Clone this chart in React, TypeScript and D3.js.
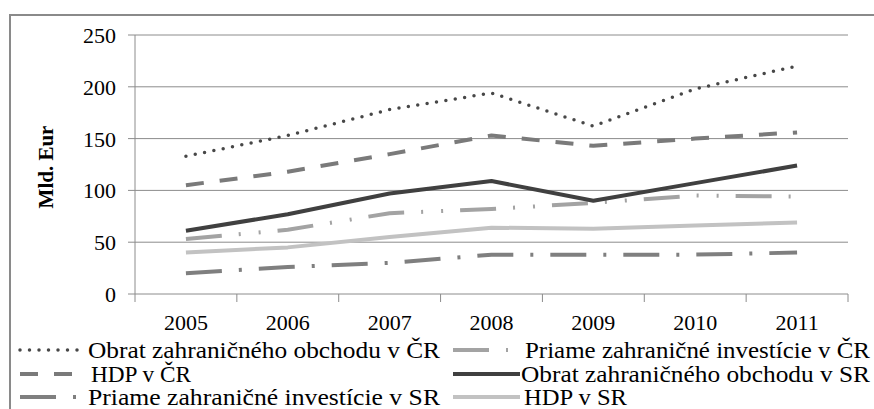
import React from 'react';
import * as d3 from 'd3';

const years = ['2005', '2006', '2007', '2008', '2009', '2010', '2011'];
const yTicks = [0, 50, 100, 150, 200, 250];

const obratCR = [133, 153, 178, 194, 162, 198, 220];
const hdpCR = [105, 118, 135, 153, 143, 150, 156];
const obratSR = [61, 77, 97, 109, 90, 107, 124];
const priameCR = [53, 62, 78, 82, 88, 95, 94];
const hdpSR = [40, 45, 55, 64, 63, 66, 69];
const priameSR = [20, 26, 30, 38, 38, 38, 40];

const seriesNames = [
  'Obrat zahraničného obchodu v ČR',
  'Priame zahraničné investície v ČR',
  'HDP v ČR',
  'Obrat zahraničného obchodu v SR',
  'Priame zahraničné investície v SR',
  'HDP v SR',
];

const W = 874;
const H = 409;
const FONT = "'Liberation Serif', 'DejaVu Serif', 'Times New Roman', serif";

const styles = [
  { values: obratCR, color: '#474747', width: 3.5, dash: '0 9.5', cap: 'round' },
  { values: priameCR, color: '#a3a3a3', width: 4, dash: '36 17 2 18 2 17', cap: 'butt' },
  { values: hdpCR, color: '#7a7a7a', width: 4, dash: '18 16', cap: 'butt' },
  { values: obratSR, color: '#404040', width: 4, dash: null, cap: 'butt' },
  { values: priameSR, color: '#7f7f7f', width: 4, dash: '36 17 3 17', cap: 'butt' },
  { values: hdpSR, color: '#c2c2c2', width: 4, dash: null, cap: 'butt' },
];

// legend label widths and starts (text there is a stretched serif)
const legendWidths = [352, 345, 100, 349, 352, 103];
const legendStarts = [88, 525, 91, 521, 88, 524];

// draw order: back to front roughly like the original
const drawOrder = [5, 4, 1, 3, 2, 0];

export default function App() {
  const left = 135, right = 848, top = 35, bottom = 294;

  const x = d3.scaleBand().domain(years).range([left, right]);
  const y = d3.scaleLinear().domain([0, 250]).range([bottom, top]);

  const line = d3.line<number>()
    .x((d, i) => (x(years[i]) as number) + x.bandwidth() / 2)
    .y(d => y(d));

  const tickXs = years.map(yr => x(yr) as number).concat([right]);

  const legendRows = [350, 374, 397];

  return (
    <svg width={W} height={H} style={{ position: 'absolute', left: 0, top: 0, background: '#fff', fontFamily: FONT }}>
      <rect x={10} y={15} width={900} height={440} fill="#fff" stroke="#8a8a8a" strokeWidth={2} />

      {/* gridlines */}
      {yTicks.map(t => (
        <line key={t} x1={left - 7} x2={right} y1={y(t)} y2={y(t)} stroke="#8c8c8c" strokeWidth={1} />
      ))}
      <line x1={left} x2={left} y1={top} y2={bottom} stroke="#8c8c8c" strokeWidth={1} />
      {tickXs.map((tx, i) => (
        <line key={i} x1={tx} x2={tx} y1={bottom} y2={bottom + 8} stroke="#8c8c8c" strokeWidth={1} />
      ))}

      {/* y tick labels */}
      {yTicks.map(t => (
        <text key={t} x={116} y={y(t)} dy="0.36em" textAnchor="end" fontSize={22} fill="#000">{t}</text>
      ))}
      {/* x labels */}
      {years.map(yr => (
        <text key={yr} x={(x(yr) as number) + x.bandwidth() / 2} y={330} textAnchor="middle" fontSize={22} fill="#000">{yr}</text>
      ))}

      <text transform={`translate(53,167) rotate(-90)`} textAnchor="middle" fontSize={21} fontWeight="bold" fill="#000">Mld. Eur</text>

      {/* series */}
      {drawOrder.map(i => {
        const s = styles[i];
        return (
          <path key={i} d={line(s.values) || ''} fill="none" stroke={s.color} strokeWidth={s.width}
            strokeDasharray={s.dash || undefined} strokeLinecap={s.cap as any} strokeLinejoin="round" />
        );
      })}

      {/* legend */}
      {seriesNames.map((name, i) => {
        const s = styles[i];
        const row = Math.floor(i / 2);
        const col = i % 2;
        const ly = legendRows[row];
        const x1 = col === 0 ? 20 : 453;
        const x2 = col === 0 ? 80 : 520;
        return (
          <g key={name}>
            <line x1={x1} x2={x2} y1={ly} y2={ly} stroke={s.color} strokeWidth={s.width}
              strokeDasharray={s.dash || undefined} strokeLinecap={s.cap as any} />
            <text x={legendStarts[i]} y={ly} dy="0.33em" fontSize={23} fill="#000"
              textLength={legendWidths[i]} lengthAdjust="spacingAndGlyphs">{name}</text>
          </g>
        );
      })}
    </svg>
  );
}
